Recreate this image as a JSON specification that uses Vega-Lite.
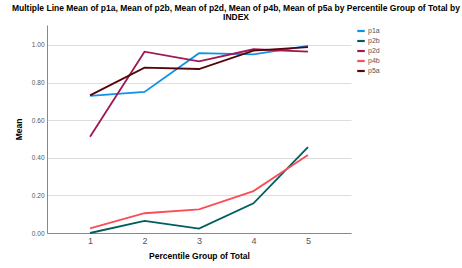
{
  "$schema": "https://vega.github.io/schema/vega-lite/v6.json",
  "autosize": "none",
  "width": 304,
  "height": 208,
  "padding": {"left": 47, "top": 25, "right": 111, "bottom": 35},
  "background": "white",
  "title": {
    "text": ["Multiple Line Mean of p1a, Mean of p2b, Mean of p2d, Mean of p4b, Mean of p5a by Percentile Group of Total by", "INDEX"],
    "anchor": "middle",
    "dx": 37,
    "offset": 4,
    "fontSize": 8.5,
    "lineHeight": 9,
    "font": "Liberation Sans",
    "fontWeight": "bold",
    "color": "#000"
  },
  "config": {
    "view": {"stroke": null},
    "font": "Liberation Sans"
  },
  "data": {
    "values": [
      {"group": 1, "series": "p1a", "mean": 0.729},
      {"group": 2, "series": "p1a", "mean": 0.750},
      {"group": 3, "series": "p1a", "mean": 0.956},
      {"group": 4, "series": "p1a", "mean": 0.950},
      {"group": 5, "series": "p1a", "mean": 0.995},
      {"group": 1, "series": "p2b", "mean": 0.0},
      {"group": 2, "series": "p2b", "mean": 0.064},
      {"group": 3, "series": "p2b", "mean": 0.023},
      {"group": 4, "series": "p2b", "mean": 0.158},
      {"group": 5, "series": "p2b", "mean": 0.457},
      {"group": 1, "series": "p2d", "mean": 0.512},
      {"group": 2, "series": "p2d", "mean": 0.964},
      {"group": 3, "series": "p2d", "mean": 0.913},
      {"group": 4, "series": "p2d", "mean": 0.977},
      {"group": 5, "series": "p2d", "mean": 0.964},
      {"group": 1, "series": "p4b", "mean": 0.025},
      {"group": 2, "series": "p4b", "mean": 0.105},
      {"group": 3, "series": "p4b", "mean": 0.126},
      {"group": 4, "series": "p4b", "mean": 0.223},
      {"group": 5, "series": "p4b", "mean": 0.415},
      {"group": 1, "series": "p5a", "mean": 0.732},
      {"group": 2, "series": "p5a", "mean": 0.879},
      {"group": 3, "series": "p5a", "mean": 0.872},
      {"group": 4, "series": "p5a", "mean": 0.970},
      {"group": 5, "series": "p5a", "mean": 0.988}
    ]
  },
  "mark": {"type": "line", "strokeWidth": 1.8},
  "encoding": {
    "x": {
      "field": "group",
      "type": "ordinal",
      "scale": {"type": "point", "padding": 0.79},
      "axis": {
        "title": "Percentile Group of Total",
        "titleFontSize": 8.5,
        "titleFontWeight": "bold",
        "titleColor": "#000",
        "titlePadding": 6,
        "labelAngle": 0,
        "labelFontSize": 9,
        "labelColor": "#555",
        "labelPadding": 3,
        "ticks": false,
        "domainColor": "#888",
        "grid": false
      }
    },
    "y": {
      "field": "mean",
      "type": "quantitative",
      "scale": {"domain": [0, 1.106], "nice": false},
      "axis": {
        "title": "Mean",
        "titleFontSize": 8.5,
        "titleFontWeight": "bold",
        "titleColor": "#000",
        "titlePadding": 8,
        "values": [0, 0.2, 0.4, 0.6, 0.8, 1.0],
        "format": ".2f",
        "labelFontSize": 6.5,
        "labelColor": "#555",
        "labelPadding": 3,
        "ticks": false,
        "domainColor": "#888",
        "grid": true,
        "gridColor": "#ddd"
      }
    },
    "color": {
      "field": "series",
      "type": "nominal",
      "scale": {
        "domain": ["p1a", "p2b", "p2d", "p4b", "p5a"],
        "range": ["#1192e8", "#005d5d", "#9f1853", "#fa4d56", "#570408"]
      },
      "legend": {
        "title": null,
        "orient": "none",
        "legendX": 309,
        "legendY": 1,
        "symbolType": "stroke",
        "symbolSize": 56,
        "symbolStrokeWidth": 2.2,
        "labelFontSize": 7,
        "labelColor": "#555",
        "rowPadding": 0,
        "labelOffset": 2,
        "symbolOffset": 0
      }
    }
  }
}
